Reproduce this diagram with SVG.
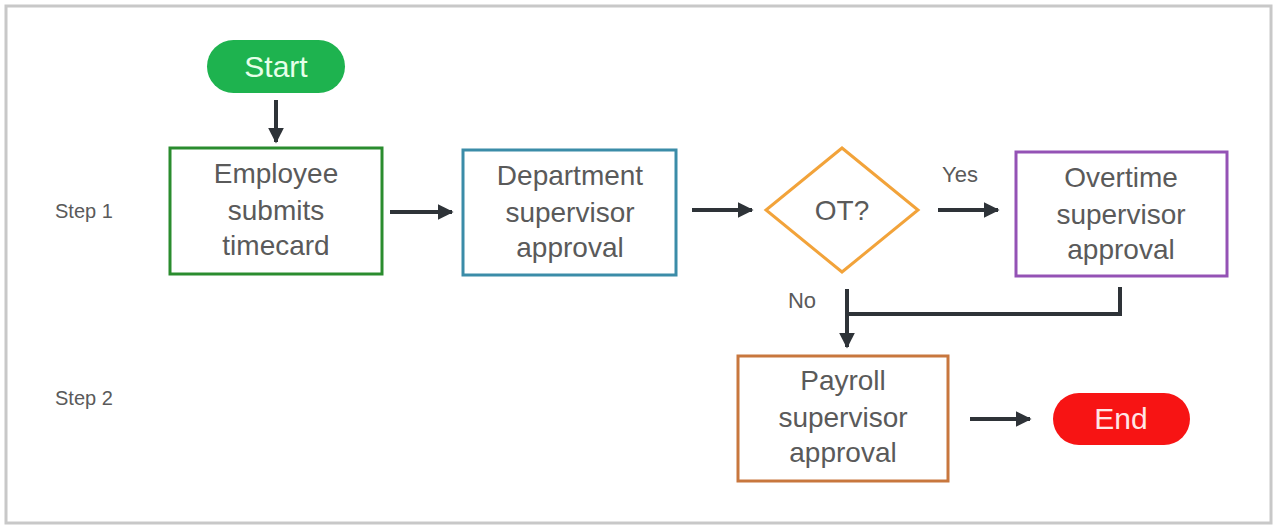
<svg xmlns="http://www.w3.org/2000/svg" width="1276" height="527" viewBox="0 0 1276 527">
<defs>
<style>
.lbl{font-family:"Liberation Sans",Arial,sans-serif;fill:#5a5a5a;text-anchor:middle}
.node{font-size:28px}
.side{font-size:20px;text-anchor:start}
.edge{font-size:22px}
.conn{stroke:#2e3338;stroke-width:4;fill:none}
.box{fill:#fff;stroke-width:3}
</style>
<marker id="ah" viewBox="0 0 10 10" refX="9" refY="5" markerWidth="4" markerHeight="4" markerUnits="strokeWidth" orient="auto">
<path d="M0,0 L10,5 L0,10 z" fill="#2e3338"/>
</marker>
</defs>
<rect x="0" y="0" width="1276" height="527" fill="#fff"/>
<rect x="6" y="6" width="1265" height="517" fill="#fff" stroke="#c8c8c8" stroke-width="3"/>
<text class="lbl side" x="55" y="218">Step 1</text>
<text class="lbl side" x="55" y="405">Step 2</text>
<g id="connectors">
<line class="conn" x1="276" y1="100" x2="276" y2="142" marker-end="url(#ah)"/>
<line class="conn" x1="390" y1="212" x2="452" y2="212" marker-end="url(#ah)"/>
<line class="conn" x1="692" y1="210" x2="752" y2="210" marker-end="url(#ah)"/>
<line class="conn" x1="938" y1="210" x2="998" y2="210" marker-end="url(#ah)"/>
<polyline class="conn" points="1120,287 1120,314 848,314"/>
<line class="conn" x1="847" y1="289" x2="847" y2="347" marker-end="url(#ah)"/>
<line class="conn" x1="970" y1="419" x2="1030" y2="419" marker-end="url(#ah)"/>
<text class="lbl edge" x="960" y="182">Yes</text>
<text class="lbl edge" x="802" y="308">No</text>
</g>
<g id="start">
<rect x="207" y="40" width="138" height="53" rx="26.5" fill="#1eb34f"/>
<text class="lbl" x="276" y="77" font-size="30" style="fill:#e6ffe9">Start</text>
</g>
<g id="employee">
<rect class="box" x="170" y="148" width="212" height="126" stroke="#2a8c2e"/>
<text class="lbl node" x="276" y="183">Employee</text>
<text class="lbl node" x="276" y="220">submits</text>
<text class="lbl node" x="276" y="255">timecard</text>
</g>
<g id="department">
<rect class="box" x="463" y="150" width="213" height="125" stroke="#3b8ca8"/>
<text class="lbl node" x="570" y="185">Department</text>
<text class="lbl node" x="570" y="222">supervisor</text>
<text class="lbl node" x="570" y="257">approval</text>
</g>
<g id="ot">
<polygon points="842,148 918,210 842,272 766,210" fill="#fff" stroke="#f2a33a" stroke-width="3"/>
<text class="lbl node" x="842" y="220">OT?</text>
</g>
<g id="overtime">
<rect class="box" x="1016" y="152" width="211" height="124" stroke="#9452b5"/>
<text class="lbl node" x="1121" y="187">Overtime</text>
<text class="lbl node" x="1121" y="224">supervisor</text>
<text class="lbl node" x="1121" y="259">approval</text>
</g>
<g id="payroll">
<rect class="box" x="738" y="356" width="210" height="125" stroke="#c8773e"/>
<text class="lbl node" x="843" y="390">Payroll</text>
<text class="lbl node" x="843" y="427">supervisor</text>
<text class="lbl node" x="843" y="462">approval</text>
</g>
<g id="end">
<rect x="1053" y="393" width="137" height="52" rx="26" fill="#f71414"/>
<text class="lbl" x="1121" y="429" font-size="30" style="fill:#ffe6e6">End</text>
</g>
</svg>
